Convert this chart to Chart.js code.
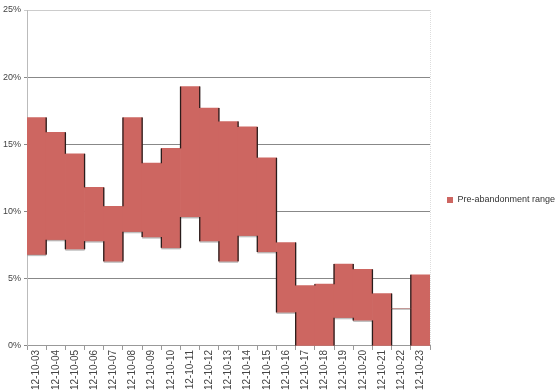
<!DOCTYPE html>
<html>
<head>
<meta charset="utf-8">
<script src="https://cdn.jsdelivr.net/npm/chart.js@4/dist/chart.umd.min.js"></script>
<style>
  html, body { margin: 0; padding: 0; background: #fff; }
  #wrap { width: 560px; height: 390px; }
</style>
</head>
<body>
<div id="wrap"><canvas id="rangeChart"></canvas></div>
<script>
// Data (percent)
const dates = ['12-10-03', '12-10-04', '12-10-05', '12-10-06', '12-10-07', '12-10-08', '12-10-09',
    '12-10-10', '12-10-11', '12-10-12', '12-10-13', '12-10-14', '12-10-15', '12-10-16',
    '12-10-17', '12-10-18', '12-10-19', '12-10-20', '12-10-21', '12-10-22', '12-10-23'];
const lowValues = [6.8, 7.9, 7.2, 7.8, 6.3, 8.5, 8.1, 7.3, 9.6, 7.8, 6.3, 8.2, 7.0, 2.5,
    0, 0, 2.1, 1.9, 0, 2.8, 0];
const highValues = [17.0, 15.9, 14.3, 11.8, 10.4, 17.0, 13.6, 14.7, 19.3, 17.7, 16.7, 16.3, 14.0, 7.7,
    4.5, 4.6, 6.1, 5.7, 3.9, 2.8, 5.3];
const yTicks = [0, 5, 10, 15, 20, 25];

const ranges = dates.map((d, i) => [lowValues[i], highValues[i]]);

// grey line under each bar + dark edges where the steps are exposed
const edgePlugin = {
    id: 'edges',
    afterDatasetsDraw(chart) {
        const ctx = chart.ctx;
        const bars = chart.getDatasetMeta(0).data;
        const area = chart.chartArea;
        ctx.save();
        // right frame
        ctx.strokeStyle = '#ddd';
        ctx.setLineDash([1, 1]);
        ctx.lineWidth = 1;
        ctx.beginPath();
        ctx.moveTo(Math.round(area.right) + 0.5, area.top);
        ctx.lineTo(Math.round(area.right) + 0.5, area.bottom);
        ctx.stroke();
        ctx.setLineDash([]);
        // soft shadow under each bar bottom
        ctx.strokeStyle = 'rgba(150,150,150,0.6)';
        ctx.lineWidth = 1.5;
        bars.forEach(function(b) {
            const bottom = Math.max(b.y, b.base);
            if (bottom >= area.bottom - 1) return;
            ctx.beginPath();
            ctx.moveTo(b.x - b.width / 2, bottom + 0.8);
            ctx.lineTo(b.x + b.width / 2, bottom + 0.8);
            ctx.stroke();
        });
        ctx.strokeStyle = '#2a1c1b';
        ctx.lineWidth = 1.3;
        for (let i = 0; i < bars.length - 1; i++) {
            const a = bars[i], b = bars[i + 1];
            const x = a.x + a.width / 2;
            const ta = Math.min(a.y, a.base), ba = Math.max(a.y, a.base);
            const tb = Math.min(b.y, b.base), bb = Math.max(b.y, b.base);
            let segs;
            if (Math.max(ta, tb) <= Math.min(ba, bb)) {
                segs = [[Math.min(ta, tb), Math.max(ta, tb)], [Math.min(ba, bb), Math.max(ba, bb)]];
            } else {
                segs = [[ta, ba], [tb, bb]];
            }
            segs.forEach(function(s) {
                if (s[1] - s[0] < 0.5) return;
                ctx.beginPath();
                ctx.moveTo(x, s[0]);
                ctx.lineTo(x, s[1]);
                ctx.stroke();
            });
        }
        ctx.restore();
    }
};

new Chart(document.getElementById('rangeChart'), {
    type: 'bar',
    data: {
        labels: dates,
        datasets: [{
            label: 'Pre-abandonment range',
            data: ranges,
            backgroundColor: '#cd6661',
            borderWidth: 0,
            categoryPercentage: 1.0,
            barPercentage: 1.0
        }]
    },
    options: {
        responsive: true,
        maintainAspectRatio: false,
        animation: false,
        layout: { padding: { top: 10, left: 0, right: 0, bottom: 0 } },
        plugins: {
            legend: {
                position: 'right',
                maxWidth: 130,
                labels: {
                    boxWidth: 6,
                    boxHeight: 6,
                    padding: 17,
                    color: '#333',
                    font: { family: 'Liberation Sans', size: 9 }
                }
            },
            tooltip: { enabled: false }
        },
        scales: {
            x: {
                grid: { display: true, drawOnChartArea: false, drawTicks: true, tickLength: 4, color: '#999', offset: true },
                border: { color: '#999' },
                ticks: {
                    autoSkip: false,
                    maxRotation: 90,
                    minRotation: 90,
                    padding: 0,
                    color: '#444',
                    font: { family: 'Liberation Sans', size: 10 }
                }
            },
            y: {
                min: 0,
                max: 25,
                afterBuildTicks: function(axis) {
                    axis.ticks = yTicks.map(v => ({ value: v }));
                },
                grid: {
                    color: ctx => ctx.tick && ctx.tick.value === 25 ? '#ccc' : '#888',
                    tickLength: 3
                },
                border: { color: '#bbb' },
                ticks: {
                    padding: 3,
                    color: '#444',
                    font: { family: 'Liberation Sans', size: 9 },
                    callback: v => v + '%'
                }
            }
        }
    },
    plugins: [edgePlugin]
});
</script>
</body>
</html>
